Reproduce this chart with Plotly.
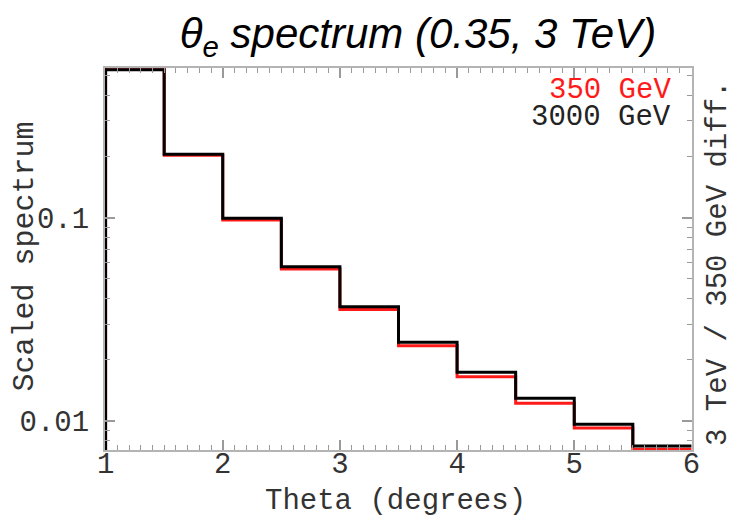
import plotly.graph_objects as go

# ---- data ----
bin_edges = [1.0, 1.5, 2.0, 2.5, 3.0, 3.5, 4.0, 4.5, 5.0, 5.5, 6.0]
vals_350 = [0.55, 0.203, 0.0974, 0.0559, 0.0354, 0.02346, 0.01652, 0.01222, 0.00924, 0.00726]
vals_3000 = [0.535, 0.205, 0.0993, 0.0574, 0.0365, 0.0244, 0.01736, 0.01294, 0.00963, 0.00754]
series_names = ["350 GeV", "3000 GeV"]
series_colors = ["#ff1a1a", "#000000"]
y_tickvals = [0.01, 0.1]
y_ticktext = ["0.01", "0.1"]
x_tickvals = [1, 2, 3, 4, 5, 6]

FLOOR = 1e-4  # histogram starts from below the visible range


def step_xy(edges, vals):
    xs = [edges[0]] + list(edges)
    ys = [FLOOR] + list(vals) + [vals[-1]]
    return xs, ys


L, R, T, B = 104.5, 692.0, 68.0, 450.0
W, H = 735, 520


def px(p):
    return (p - L) / (R - L)


def py(p):
    return (B - p) / (B - T)


MONO = "Liberation Mono, DejaVu Sans Mono, monospace"
TXT = "#333333"
fig = go.Figure()
for name, vals, col in zip(series_names, [vals_350, vals_3000], series_colors):
    xs, ys = step_xy(bin_edges, vals)
    fig.add_trace(go.Scatter(x=xs, y=ys, mode="lines", line=dict(color=col, width=3, shape="hv"),
                             name=name, showlegend=False, cliponaxis=True))

minor_y = []
for dec in [0.001, 0.01, 0.1]:
    for m in range(2, 10):
        minor_y.append(round(m * dec, 6))

axis_common = dict(showline=True, linecolor="#b4b4b4", linewidth=2, mirror="allticks",
                   ticks="inside", tickcolor="#9a9a9a", tickwidth=1.5, showgrid=False,
                   zeroline=False, tickfont=dict(family=MONO, size=29, color=TXT))

fig.update_xaxes(range=[0.995, 6.005], tickvals=x_tickvals, ticklen=10,
                 minor=dict(dtick=0.1, tick0=1, ticklen=5, tickcolor="#9a9a9a", tickwidth=1.2,
                            ticks="inside"),
                 ticklabelstandoff=-14, **axis_common)
fig.update_yaxes(type="log", range=[-2.1426, -0.2636], tickvals=y_tickvals, ticktext=y_ticktext,
                 ticklen=10,
                 minor=dict(tickvals=minor_y, ticklen=5, tickcolor="#9a9a9a", tickwidth=1.2,
                            ticks="inside"),
                 ticklabelstandoff=8, **axis_common)

ann = []
ann.append(dict(text="Theta (degrees)", x=px(395), y=py(501), xref="paper", yref="paper",
                showarrow=False, font=dict(family=MONO, size=29, color=TXT),
                xanchor="center", yanchor="middle"))
ann.append(dict(text="Scaled spectrum", x=px(24), y=py(257), xref="paper", yref="paper",
                showarrow=False, textangle=-90, font=dict(family=MONO, size=30, color=TXT),
                xanchor="center", yanchor="middle"))
ann.append(dict(text="3 TeV / 350 GeV diff.", x=px(718), y=py(263), xref="paper", yref="paper",
                showarrow=False, textangle=-90, font=dict(family=MONO, size=29, color=TXT),
                xanchor="center", yanchor="middle"))
for i, (name, col) in enumerate(zip(series_names, series_colors)):
    ann.append(dict(text=name, x=px(673), y=py(90 + 27 * i), xref="paper", yref="paper",
                    showarrow=False, height=26, valign="middle",
                    font=dict(family=MONO, size=29, color=col if i == 0 else "#222222"),
                    xanchor="right", yanchor="middle"))

fig.update_layout(
    width=W, height=H,
    margin=dict(l=L, r=W - R, t=T, b=H - B),
    paper_bgcolor="white", plot_bgcolor="white",
    title=dict(text="<i>θ<sub>e</sub> spectrum (0.35, 3 TeV)</i>", x=418 / W, y=1 - 33 / H,
               xanchor="center", yanchor="middle", xref="container", yref="container",
               font=dict(family="Liberation Sans, Arial, sans-serif", size=42, color="#000000")),
    annotations=ann,
    showlegend=False,
)

fig.write_html("out.html")
